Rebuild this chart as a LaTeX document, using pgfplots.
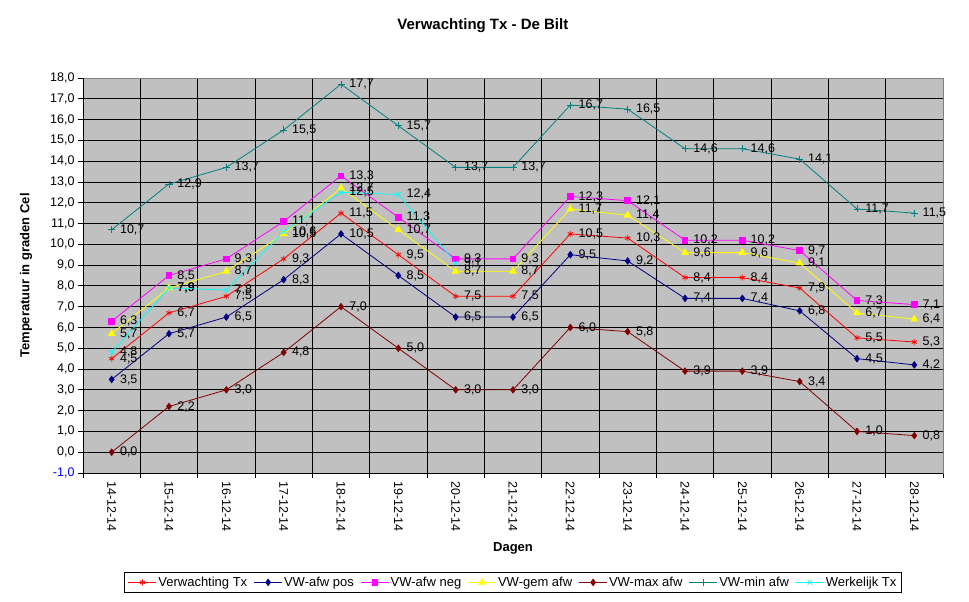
\documentclass[border=0pt]{standalone}
\usepackage{fontspec}
\setmainfont{Liberation Sans}
\usepackage{pgfplots}
\pgfplotsset{compat=1.18}
\definecolor{plotgray}{HTML}{C0C0C0}
\definecolor{xnavy}{HTML}{000080}
\definecolor{xmag}{HTML}{FF00FF}
\definecolor{xyel}{HTML}{FFFF00}
\definecolor{xdred}{HTML}{800000}
\definecolor{xteal}{HTML}{008080}
\definecolor{xcyan}{HTML}{00FFFF}
\begin{document}
\begin{tikzpicture}
\begin{axis}[
  at={(0pt,0pt)}, anchor=south west,
  scale only axis, width=860pt, height=395pt,
  xmin=-0.5, xmax=14.5, ymin=-1, ymax=18,
  axis background/.style={fill=plotgray},
  axis line style={draw=gray, line width=0.8pt},
  xtick={0,...,14},
  xticklabels={14-12-14,15-12-14,16-12-14,17-12-14,18-12-14,19-12-14,20-12-14,21-12-14,22-12-14,23-12-14,24-12-14,25-12-14,26-12-14,27-12-14,28-12-14},
  major x tick style={draw=none},
  minor xtick={-0.5,0.5,...,14.5},
  ytick={0,...,18},
  extra y ticks={-1},
  extra y tick style={yticklabel style={text=blue}, ymajorgrids=false},
  tick align=outside, tick pos=left,
  major tick length=5pt, minor tick length=5pt,
  tick style={black, line width=0.8pt},
  xminorgrids=true, ymajorgrids=true, xmajorgrids=false,
  grid style={black, line width=0.8pt},
  minor grid style={black, line width=0.8pt},
  yticklabel={\pgfmathprintnumber[fixed,fixed zerofill,precision=1,use comma,assume math mode=true]{\tick}},
  ticklabel style={font=\fontsize{12.5}{15}\selectfont},
  xticklabel style={rotate=-90, anchor=west},
  title={Verwachting Tx - De Bilt},
  title style={at={(axis description cs:0.465,1.1165)}, anchor=center, font=\bfseries\fontsize{15}{18}\selectfont},
  xlabel={Dagen},
  xlabel style={at={(axis description cs:0.5,-0.19)}, anchor=center, font=\bfseries\fontsize{13}{15}\selectfont},
  ylabel={Temperatuur in graden Cel},
  ylabel style={at={(axis description cs:-0.0663,0.5)}, anchor=center, font=\bfseries\fontsize{13}{15}\selectfont},
  nodes near coords={\pgfmathprintnumber[fixed,fixed zerofill,precision=1,use comma,assume math mode=true]{\pgfplotspointmeta}},
  every node near coord/.append style={anchor=west, text=black, font=\fontsize{12.5}{15}\selectfont, xshift=7pt, inner sep=1pt},
  legend style={at={(axis description cs:0.5,-0.277)}, anchor=center, legend columns=7, draw=black, fill=white, line width=0.8pt,
    inner sep=3.5pt, nodes={inner sep=1.5pt},
    font=\fontsize{13}{15}\selectfont, /tikz/every even column/.append style={column sep=5pt}},
  legend image code/.code={\draw[mark repeat=2,mark phase=2,#1] plot coordinates {(0pt,0pt)(14pt,0pt)(28pt,0pt)};},
  every axis plot/.append style={line width=0.8pt},
]
\addplot[red, mark=asterisk, mark size=3pt, mark options={solid}] coordinates {
(0,4.5) (1,6.7) (2,7.5) (3,9.3) (4,11.5) (5,9.5) (6,7.5) (7,7.5) (8,10.5) (9,10.3) (10,8.4) (11,8.4) (12,7.9) (13,5.5) (14,5.3)};
\addlegendentry{Verwachting Tx}
\addplot[xnavy, mark=diamond*, mark size=3.2pt, mark options={solid, fill=xnavy}] coordinates {
(0,3.5) (1,5.7) (2,6.5) (3,8.3) (4,10.5) (5,8.5) (6,6.5) (7,6.5) (8,9.5) (9,9.2) (10,7.4) (11,7.4) (12,6.8) (13,4.5) (14,4.2)};
\addlegendentry{VW-afw pos}
\addplot[xmag, mark=square*, mark size=2.8pt, mark options={solid, fill=xmag}] coordinates {
(0,6.3) (1,8.5) (2,9.3) (3,11.1) (4,13.3) (5,11.3) (6,9.3) (7,9.3) (8,12.3) (9,12.1) (10,10.2) (11,10.2) (12,9.7) (13,7.3) (14,7.1)};
\addlegendentry{VW-afw neg}
\addplot[xyel, mark=triangle*, mark size=3.8pt, mark options={solid, fill=xyel}] coordinates {
(0,5.7) (1,7.9) (2,8.7) (3,10.5) (4,12.7) (5,10.7) (6,8.7) (7,8.7) (8,11.7) (9,11.4) (10,9.6) (11,9.6) (12,9.1) (13,6.7) (14,6.4)};
\addlegendentry{VW-gem afw}
\addplot[xdred, mark=diamond*, mark size=3.2pt, mark options={solid, fill=xdred}] coordinates {
(0,0.0) (1,2.2) (2,3.0) (3,4.8) (4,7.0) (5,5.0) (6,3.0) (7,3.0) (8,6.0) (9,5.8) (10,3.9) (11,3.9) (12,3.4) (13,1.0) (14,0.8)};
\addlegendentry{VW-max afw}
\addplot[xteal, mark=+, mark size=3.5pt, mark options={solid}] coordinates {
(0,10.7) (1,12.9) (2,13.7) (3,15.5) (4,17.7) (5,15.7) (6,13.7) (7,13.7) (8,16.7) (9,16.5) (10,14.6) (11,14.6) (12,14.1) (13,11.7) (14,11.5)};
\addlegendentry{VW-min afw}
\addplot[xcyan, mark=x, mark size=3.2pt, mark options={solid}] coordinates {
(0,4.8) (1,7.9) (2,7.8) (3,10.6) (4,12.5) (5,12.4) (6,9.1)};
\addlegendentry{Werkelijk Tx}
\draw[black, line width=0.8pt] (rel axis cs:0,1) -- (rel axis cs:0,0) -- (rel axis cs:1,0);
\end{axis}
\pgfresetboundingbox
\path[use as bounding box] (-83pt,-129pt) rectangle (886pt,473pt);
\end{tikzpicture}
\end{document}
